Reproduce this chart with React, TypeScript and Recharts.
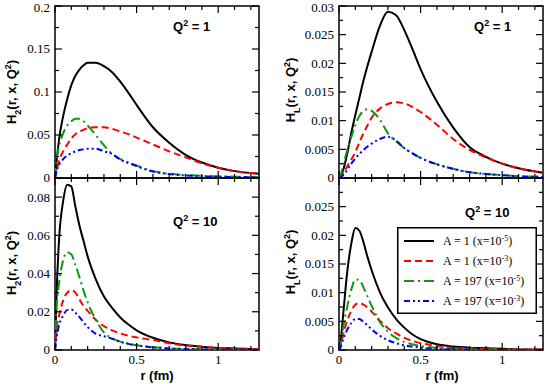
import React from 'react';
import { LineChart, Line, XAxis, YAxis, ReferenceArea, Legend } from 'recharts';

// ---------- data ----------
const rValues = [0, 0.01, 0.025, 0.05, 0.075, 0.1, 0.125, 0.15, 0.175, 0.2, 0.25, 0.3, 0.35, 0.4, 0.45, 0.5, 0.6, 0.7, 0.8, 0.9, 1.0, 1.1, 1.25];

// H2, Q^2 = 1
const h2Q1A1x5 = [0, 0.02, 0.045, 0.072, 0.092, 0.108, 0.119, 0.126, 0.131, 0.134, 0.134, 0.13, 0.123, 0.112, 0.099, 0.085, 0.059, 0.041, 0.027, 0.018, 0.012, 0.008, 0.005];
const h2Q1A1x3 = [0, 0.008, 0.02, 0.031, 0.039, 0.046, 0.051, 0.054, 0.056, 0.058, 0.059, 0.059, 0.057, 0.054, 0.051, 0.047, 0.039, 0.031, 0.024, 0.017, 0.012, 0.008, 0.005];
const h2Q1A197x5 = [0, 0.022, 0.037, 0.052, 0.061, 0.066, 0.069, 0.069, 0.066, 0.061, 0.05, 0.038, 0.028, 0.022, 0.018, 0.0145, 0.008, 0.005, 0.0035, 0.0025, 0.002, 0.0015, 0.001];
const h2Q1A197x3 = [0, 0.008, 0.015, 0.022, 0.026, 0.029, 0.031, 0.0325, 0.0335, 0.034, 0.034, 0.031, 0.028, 0.0215, 0.0175, 0.0138, 0.0075, 0.0045, 0.003, 0.002, 0.0015, 0.0012, 0.0008];

// HL, Q^2 = 1
const hLQ1A1x5 = [0, 0.0003, 0.0013, 0.0042, 0.0078, 0.011, 0.014, 0.017, 0.0196, 0.022, 0.0265, 0.029, 0.0284, 0.0258, 0.0225, 0.019, 0.0133, 0.0088, 0.0054, 0.0037, 0.0025, 0.0017, 0.0009];
const hLQ1A1x3 = [0, 0.0001, 0.0007, 0.002, 0.0032, 0.0045, 0.0062, 0.0078, 0.0092, 0.0105, 0.0121, 0.0129, 0.0132, 0.013, 0.0124, 0.0115, 0.0093, 0.0068, 0.0049, 0.0036, 0.0025, 0.0017, 0.0009];
const hLQ1A197x5 = [0, 0.0005, 0.0022, 0.0048, 0.0071, 0.0092, 0.0108, 0.0117, 0.012, 0.0117, 0.0102, 0.0078, 0.0064, 0.0052, 0.0043, 0.0035, 0.0024, 0.0016, 0.001, 0.0007, 0.0005, 0.0003, 0.0002];
const hLQ1A197x3 = [0, 0.0001, 0.0005, 0.0014, 0.0025, 0.0034, 0.0042, 0.0049, 0.0055, 0.006, 0.0068, 0.0072, 0.0065, 0.0052, 0.0043, 0.0035, 0.0024, 0.0016, 0.001, 0.0007, 0.0005, 0.0003, 0.0002];

// H2, Q^2 = 10
const h2Q10A1x5 = [0, 0.03, 0.058, 0.078, 0.0865, 0.0855, 0.075, 0.065, 0.057, 0.049, 0.037, 0.028, 0.022, 0.017, 0.0133, 0.0103, 0.0064, 0.004, 0.0026, 0.0017, 0.0011, 0.0008, 0.0004];
const h2Q10A1x3 = [0, 0.011, 0.018, 0.026, 0.03, 0.0313, 0.03, 0.0265, 0.023, 0.0205, 0.0158, 0.0125, 0.0103, 0.0087, 0.0075, 0.0066, 0.0052, 0.0035, 0.0023, 0.0016, 0.0011, 0.0008, 0.0005];
const h2Q10A197x5 = [0, 0.022, 0.035, 0.047, 0.0512, 0.05, 0.0445, 0.038, 0.031, 0.025, 0.0158, 0.0092, 0.0061, 0.0044, 0.0033, 0.0025, 0.0015, 0.0009, 0.0006, 0.0004, 0.0003, 0.0002, 0.0001];
const h2Q10A197x3 = [0, 0.007, 0.013, 0.018, 0.021, 0.0212, 0.0195, 0.0172, 0.0145, 0.012, 0.0085, 0.0072, 0.0059, 0.0043, 0.0032, 0.0024, 0.0014, 0.0008, 0.0005, 0.0003, 0.0002, 0.0001, 0.0001];

// HL, Q^2 = 10
const hLQ10A1x5 = [0, 0.0015, 0.006, 0.0135, 0.0185, 0.0213, 0.0208, 0.0188, 0.0162, 0.0139, 0.0101, 0.0074, 0.0054, 0.0039, 0.0027, 0.0019, 0.001, 0.0006, 0.0004, 0.0003, 0.0002, 0.0001, 0.0001];
const hLQ10A1x3 = [0, 0.0007, 0.0026, 0.0051, 0.0068, 0.0079, 0.0082, 0.0079, 0.0074, 0.0067, 0.0051, 0.0038, 0.0029, 0.0021, 0.0016, 0.0012, 0.0007, 0.0004, 0.0003, 0.0002, 0.0001, 0.0001, 0.0001];
const hLQ10A197x5 = [0, 0.001, 0.0038, 0.0075, 0.0105, 0.0123, 0.0122, 0.0109, 0.0093, 0.0077, 0.0049, 0.0032, 0.0021, 0.0014, 0.001, 0.0007, 0.0004, 0.0002, 0.0001, 0.0001, 0.0001, 0, 0];
const hLQ10A197x3 = [0, 0.0005, 0.0018, 0.0035, 0.0047, 0.0054, 0.0054, 0.0049, 0.0043, 0.0036, 0.0025, 0.0017, 0.0012, 0.0008, 0.0006, 0.0004, 0.0002, 0.0001, 0.0001, 0, 0, 0, 0];

const seriesKeys = ['a1x5', 'a1x3', 'a197x5', 'a197x3'];
const seriesLabelMain = ['A = 1 (x=10', 'A = 1 (x=10', 'A = 197 (x=10', 'A = 197 (x=10'];
const seriesLabelExp = ['-5', '-3', '-5', '-3'];

const xTickValues = [0, 0.1, 0.2, 0.3, 0.4, 0.5, 0.6, 0.7, 0.8, 0.9, 1, 1.1, 1.2];
const xMajorTicks = [0, 0.5, 1];
const xMajorLabels = ['0', '0.5', '1'];
const xDomainMax = 1.25;

const h2Q1Major = [0, 0.05, 0.1, 0.15, 0.2];
const h2Q1Labels = ['0', '0.05', '0.1', '0.15', '0.2'];
const h2Q1Minor = [0.025, 0.075, 0.125, 0.175];

const hLQ1Major = [0, 0.005, 0.01, 0.015, 0.02, 0.025, 0.03];
const hLQ1Labels = ['0', '0.005', '0.01', '0.015', '0.02', '0.025', '0.03'];
const hLMinor = [0.0025, 0.0075, 0.0125, 0.0175, 0.0225, 0.0275];

const h2Q10Major = [0, 0.02, 0.04, 0.06, 0.08];
const h2Q10Labels = ['0', '0.02', '0.04', '0.06', '0.08'];
const h2Q10Minor = [0.01, 0.03, 0.05, 0.07, 0.09];

const hLQ10Major = [0, 0.005, 0.01, 0.015, 0.02, 0.025, 0.03];
const hLQ10Labels = ['0', '0.005', '0.01', '0.015', '0.02', '0.025', ''];

// ---------- styles ----------
const seriesStyles = [
  { stroke: '#000000', dash: undefined as string | undefined, width: 2 },
  { stroke: '#ff0000', dash: '7 4', width: 2 },
  { stroke: '#0c9a0c', dash: '10 4 2 4', width: 2 },
  { stroke: '#0000ff', dash: '6 3 2 3 2 3', width: 2 },
];
const SERIF = "'Liberation Serif', 'Times New Roman', serif";
const SANS = "'Liberation Sans', Arial, sans-serif";
const W = 545;
const H = 384;
const AXW = 20;

function buildRows(a: number[], b: number[], c: number[], d: number[]) {
  return rValues.map((r, i) => ({ r, a1x5: a[i], a1x3: b[i], a197x5: c[i], a197x3: d[i] }));
}

const panels = [
  { id: 'tl', L: 55, T: 6, R: 259, B: 178, yMax: 0.2, rows: buildRows(h2Q1A1x5, h2Q1A1x3, h2Q1A197x5, h2Q1A197x3), yMajor: h2Q1Major, yLabels: h2Q1Labels, yMinor: h2Q1Minor, xLabels: false, legend: false },
  { id: 'tr', L: 339, T: 6, R: 543, B: 178, yMax: 0.03, rows: buildRows(hLQ1A1x5, hLQ1A1x3, hLQ1A197x5, hLQ1A197x3), yMajor: hLQ1Major, yLabels: hLQ1Labels, yMinor: hLMinor, xLabels: false, legend: false },
  { id: 'bl', L: 55, T: 178, R: 259, B: 350, yMax: 0.09, rows: buildRows(h2Q10A1x5, h2Q10A1x3, h2Q10A197x5, h2Q10A197x3), yMajor: h2Q10Major, yLabels: h2Q10Labels, yMinor: h2Q10Minor, xLabels: true, legend: false },
  { id: 'br', L: 339, T: 178, R: 543, B: 350, yMax: 0.03, rows: buildRows(hLQ10A1x5, hLQ10A1x3, hLQ10A197x5, hLQ10A197x3), yMajor: hLQ10Major, yLabels: hLQ10Labels, yMinor: hLMinor, xLabels: true, legend: true },
];

function near(a: number, b: number) {
  return Math.abs(a - b) < 1e-9;
}

function XTick(props: any) {
  const { x, y, payload, plotH, showLabel } = props;
  const v = payload.value;
  const idx = xMajorTicks.findIndex((m) => near(m, v));
  const len = idx >= 0 ? 7 : 4;
  return (
    <g>
      <line x1={x} y1={y} x2={x} y2={y - len} stroke="#000" strokeWidth={1.2} />
      <line x1={x} y1={y - plotH} x2={x} y2={y - plotH + len} stroke="#000" strokeWidth={1.2} />
      {showLabel && idx >= 0 && (
        <text x={x} y={y + 13.5} textAnchor="middle" fontFamily={SERIF} fontSize={13} fill="#000">
          {xMajorLabels[idx]}
        </text>
      )}
    </g>
  );
}

function YTick(props: any) {
  const { x, y, payload, plotW, majors, labels } = props;
  const v = payload.value;
  const idx = majors.findIndex((m: number) => near(m, v));
  const len = idx >= 0 ? 7 : 4;
  // keep the top-most label inside the picture
  const ty = Math.max(y, 8);
  return (
    <g>
      <line x1={x} y1={y} x2={x + len} y2={y} stroke="#000" strokeWidth={1.2} />
      <line x1={x + plotW} y1={y} x2={x + plotW - len} y2={y} stroke="#000" strokeWidth={1.2} />
      {idx >= 0 && labels[idx] && (
        <text x={x - 5} y={ty} dy="0.34em" textAnchor="end" fontFamily={SERIF} fontSize={13} fill="#000">
          {labels[idx]}
        </text>
      )}
    </g>
  );
}

function LegendBox() {
  return (
    <svg width={140} height={87} style={{ display: 'block' }}>
      <rect x={0.75} y={0.75} width={138.5} height={85.5} fill="#fff" stroke="#000" strokeWidth={1.5} />
      {seriesKeys.map((k, i) => {
        const yy = 14 + 20 * i;
        const st = seriesStyles[i];
        return (
          <g key={k}>
            <line x1={7} x2={37} y1={yy} y2={yy} stroke={st.stroke} strokeWidth={st.width} strokeDasharray={st.dash} />
            <text x={46} y={yy} dy="0.35em" fontFamily={SERIF} fontSize={12} fill="#000">
              {seriesLabelMain[i]}
              <tspan baselineShift="super" fontSize={8}>{seriesLabelExp[i]}</tspan>
              <tspan>)</tspan>
            </text>
          </g>
        );
      })}
    </svg>
  );
}

function Panel({ p }: { p: any }) {
  const plotW = p.R - p.L;
  const plotH = p.B - p.T;
  const yTicks = [...p.yMajor, ...p.yMinor].sort((a: number, b: number) => a - b);
  return (
    <div style={{ position: 'absolute', left: 0, top: 0 }}>
      <LineChart
        width={W}
        height={H}
        data={p.rows}
        margin={{ left: p.L - AXW, top: p.T, right: W - p.R, bottom: H - p.B - AXW }}
      >
        <XAxis
          dataKey="r"
          type="number"
          domain={[0, xDomainMax]}
          ticks={xTickValues}
          interval={0}
          allowDataOverflow
          height={AXW}
          axisLine={false}
          tickLine={false}
          tickSize={0}
          tickMargin={0}
          tick={(tp: any) => {
            const { key, ...rest } = tp;
            return <XTick {...rest} plotH={plotH} showLabel={p.xLabels} />;
          }}
        />
        <YAxis
          type="number"
          domain={[0, p.yMax]}
          ticks={yTicks}
          interval={0}
          allowDataOverflow
          width={AXW}
          axisLine={false}
          tickLine={false}
          tickSize={0}
          tickMargin={0}
          tick={(tp: any) => {
            const { key, ...rest } = tp;
            return <YTick {...rest} plotW={plotW} majors={p.yMajor} labels={p.yLabels} />;
          }}
        />
        <ReferenceArea x1={0} x2={xDomainMax} y1={0} y2={p.yMax} fill="none" fillOpacity={0} stroke="#000" strokeWidth={1.5} ifOverflow="visible" />
        {seriesKeys.map((k, i) => (
          <Line
            key={k}
            dataKey={k}
            type="monotone"
            stroke={seriesStyles[i].stroke}
            strokeWidth={seriesStyles[i].width}
            strokeDasharray={seriesStyles[i].dash}
            dot={false}
            activeDot={false}
            isAnimationActive={false}
          />
        ))}
        {p.legend && (
          <Legend
            layout="horizontal"
            verticalAlign="middle"
            align="center"
            content={() => <LegendBox />}
            wrapperStyle={{ left: 397, top: 227, width: 140, height: 87 }}
          />
        )}
      </LineChart>
    </div>
  );
}

function YTitle({ x, y, sub }: { x: number; y: number; sub: string }) {
  return (
    <text transform={`translate(${x},${y}) rotate(-90)`} textAnchor="middle" fontFamily={SANS} fontWeight="bold" fontSize={13} fill="#000">
      H<tspan baselineShift="sub" fontSize={9}>{sub}</tspan>
      <tspan>(r, x, Q</tspan>
      <tspan baselineShift="super" fontSize={9}>2</tspan>
      <tspan>)</tspan>
    </text>
  );
}

function QLabel({ x, y, q }: { x: number; y: number; q: string }) {
  return (
    <text x={x} y={y} fontFamily={SANS} fontWeight="bold" fontSize={13} fill="#000">
      Q<tspan baselineShift="super" fontSize={9}>2</tspan>
      <tspan>{` = ${q}`}</tspan>
    </text>
  );
}

export default function App() {
  return (
    <div style={{ position: 'absolute', left: 0, top: 0, width: W, height: H, background: '#fff' }}>
      {panels.map((p) => (
        <Panel key={p.id} p={p} />
      ))}
      <svg width={W} height={H} style={{ position: 'absolute', left: 0, top: 0, pointerEvents: 'none' }}>
        <YTitle x={16} y={92} sub="2" />
        <YTitle x={295} y={90} sub="L" />
        <YTitle x={16} y={263} sub="2" />
        <YTitle x={295} y={262} sub="L" />
        <QLabel x={173} y={31} q="1" />
        <QLabel x={474} y={31} q="1" />
        <QLabel x={173} y={226} q="10" />
        <QLabel x={465} y={217} q="10" />
        <text x={157} y={380} textAnchor="middle" fontFamily={SANS} fontWeight="bold" fontSize={13} fill="#000">r (fm)</text>
        <text x={442} y={380} textAnchor="middle" fontFamily={SANS} fontWeight="bold" fontSize={13} fill="#000">r (fm)</text>
      </svg>
    </div>
  );
}
